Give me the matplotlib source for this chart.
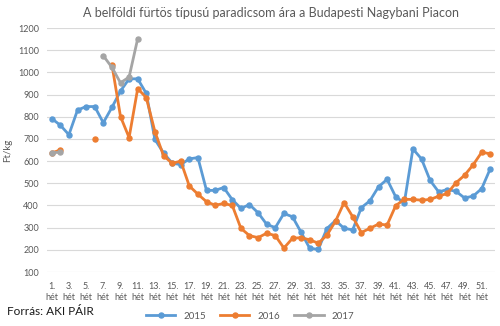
import matplotlib.pyplot as plt
import numpy as np

# heti árak (Ft/kg)
weeks = list(range(1, 53))
nan = np.nan
price_2015 = [792, 762, 719, 830, 846, 846, 773, 842, 916, 971,
              971, 905, 698, 637, 591, 584, 610, 616, 468, 468,
              481, 426, 387, 404, 367, 315, 300, 364, 349, 279,
              207, 202, 296, 332, 297, 290, 390, 421, 484, 518,
              439, 412, 655, 610, 513, 461, 472, 464, 434, 442,
              476, 566]
price_2016 = [637, 650, nan, nan, nan, 700, nan, 1035, 801, 706,
              927, 886, 733, 625, 590, 600, 488, 451, 417, 401,
              409, 400, 297, 264, 255, 275, 264, 208, 252, 255,
              245, 230, 266, 329, 413, 349, 278, 297, 316, 312,
              399, 428, 427, 424, 427, 442, 454, 502, 536, 583,
              640, 633]
price_2017 = [638, 640, nan, nan, nan, nan, 1075, 1023, 953, 979,
              1152] + [nan] * 41
tick_weeks = list(range(1, 53, 2))
tick_labels = ["%d.\nhét" % w for w in tick_weeks]

plt.rcParams['font.family'] = ['Lato', 'DejaVu Sans']

fig = plt.figure(figsize=(5, 3.26), dpi=100)
ax = fig.add_axes([0.0948, 0.1656, 0.8944, 0.7484])

ax.plot(weeks, price_2015, color="#5B9BD5", lw=2, marker="o", ms=3.6, label="2015", zorder=3)
ax.plot(weeks, price_2016, color="#ED7D31", lw=2, marker="o", ms=3.6, label="2016", zorder=4)
ax.plot(weeks, price_2017, color="#A5A5A5", lw=2, marker="o", ms=3.6, label="2017", zorder=5)

ax.set_xlim(0.5, 52.5)
ax.set_ylim(100, 1200)
ax.set_yticks(range(100, 1201, 100))
ax.set_xticks(tick_weeks)
ax.set_xticklabels(tick_labels, fontsize=6.5, color="#595959", linespacing=1.35)
ax.tick_params(axis="y", labelsize=6.5, labelcolor="#595959", length=0, pad=6)
ax.tick_params(axis="x", length=0, pad=7)
ax.grid(axis="y", color="#D9D9D9", lw=0.8)
ax.set_axisbelow(True)
for s in ax.spines.values():
    s.set_visible(False)

ax.set_ylabel("Ft/kg", fontsize=7, color="#595959", labelpad=4)
ax.set_title("A belföldi fürtös típusú paradicsom ára a Budapesti Nagybani Piacon",
             fontsize=9, color="#595959", pad=8)

fig.legend(loc="center", bbox_to_anchor=(0.5, 0.03), ncol=3, frameon=False,
           fontsize=7, handlelength=3, columnspacing=1.5, labelcolor="#595959")
fig.text(0.014, 0.043, "Forrás: AKI PÁIR", fontsize=8.5, color="#1a1a1a", va="center")

plt.savefig("out.png")
